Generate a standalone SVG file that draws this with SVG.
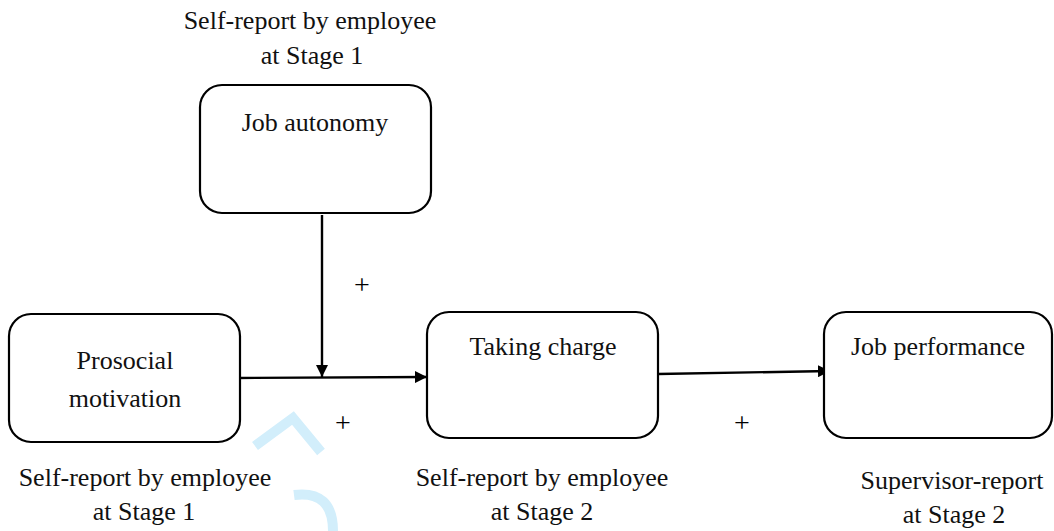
<svg xmlns="http://www.w3.org/2000/svg" width="1054" height="531" viewBox="0 0 1054 531">
<defs>
<style>
.box{fill:#fff;stroke:#000;stroke-width:2.2}
.t{font-family:"Liberation Serif","Times New Roman",serif;font-size:26px;fill:#111;text-anchor:middle}
.p{font-family:"Liberation Serif","Times New Roman",serif;font-size:28px;fill:#000;text-anchor:middle}
.c{stroke:#000;stroke-width:2.4;fill:none}
.wm{stroke:#d2eefb;stroke-width:10;fill:none}
</style>
<marker id="ah" viewBox="0 0 12 12" refX="12" refY="6" markerWidth="12" markerHeight="12" markerUnits="userSpaceOnUse" orient="auto">
<path d="M0,0 L12,6 L0,12 z" fill="#000"/>
</marker>
</defs>
<rect width="1054" height="531" fill="#fff"/>
<g id="watermark">
<path class="wm" d="M255 446 L293 418 L321 452" stroke-linejoin="miter"/>
<path class="wm" d="M294 495 Q333 490 333 531"/>
</g>
<g id="connectors">
<line class="c" x1="237" y1="378" x2="427" y2="377" marker-end="url(#ah)"/>
<line class="c" x1="322" y1="215" x2="322" y2="377" marker-end="url(#ah)"/>
<line class="c" x1="658" y1="374" x2="830" y2="371" marker-end="url(#ah)"/>
<text class="p" x="362" y="294">+</text>
<text class="p" x="343" y="432">+</text>
<text class="p" x="742" y="432">+</text>
</g>
<g id="autonomy">
<text class="t" x="310" y="29">Self-report by employee</text>
<text class="t" x="312" y="64">at Stage 1</text>
<rect class="box" x="200" y="85" width="231" height="128" rx="22"/>
<text class="t" x="315" y="131">Job autonomy</text>
</g>
<g id="prosocial">
<rect class="box" x="9" y="314" width="231" height="128" rx="22"/>
<text class="t" x="125" y="369">Prosocial</text>
<text class="t" x="125" y="407">motivation</text>
<text class="t" x="145" y="486">Self-report by employee</text>
<text class="t" x="144" y="520">at Stage 1</text>
</g>
<g id="taking">
<rect class="box" x="427" y="312" width="231" height="126" rx="22"/>
<text class="t" x="543" y="355">Taking charge</text>
<text class="t" x="542" y="486">Self-report by employee</text>
<text class="t" x="542" y="520">at Stage 2</text>
</g>
<g id="performance">
<rect class="box" x="824" y="312" width="228" height="126" rx="22"/>
<text class="t" x="938" y="355">Job performance</text>
<text class="t" x="952" y="489">Supervisor-report</text>
<text class="t" x="954" y="523">at Stage 2</text>
</g>
</svg>
